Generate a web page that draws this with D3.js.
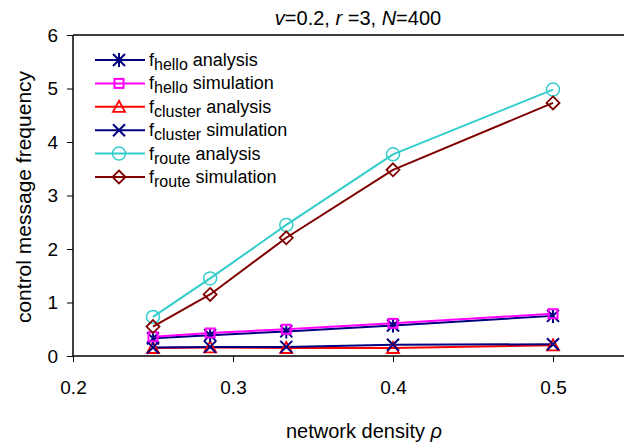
<!DOCTYPE html>
<html>
<head>
<meta charset="utf-8">
<script src="https://cdn.jsdelivr.net/npm/d3@7"></script>
<style>
  body { margin: 0; background: #fff; }
  text { font-family: "Liberation Sans", Arial, sans-serif; }
</style>
</head>
<body>
<svg></svg>
<script>
// densities (x) and the six series
var density = [0.25, 0.2857, 0.3333, 0.4, 0.5]
var helloAnalysis = [0.33, 0.39, 0.46, 0.57, 0.75]
var helloSimulation = [0.36, 0.43, 0.50, 0.61, 0.79]
var clusterAnalysis = [0.15, 0.16, 0.15, 0.15, 0.20]
var clusterSimulation = [0.16, 0.17, 0.17, 0.21, 0.22]
var routeAnalysis = [0.73, 1.45, 2.45, 3.77, 4.98]
var routeSimulation = [0.55, 1.15, 2.21, 3.48, 4.73]
var xTicks = [0.2, 0.3, 0.4, 0.5]
var yTicks = [0, 1, 2, 3, 4, 5, 6]

var series = [
    {sub: "hello", kind: "analysis", values: helloAnalysis, color: "#000080", marker: "star"},
    {sub: "hello", kind: "simulation", values: helloSimulation, color: "#ff00ff", marker: "square"},
    {sub: "cluster", kind: "analysis", values: clusterAnalysis, color: "#ff0000", marker: "triangle"},
    {sub: "cluster", kind: "simulation", values: clusterSimulation, color: "#000080", marker: "x"},
    {sub: "route", kind: "analysis", values: routeAnalysis, color: "#33cccc", marker: "circle"},
    {sub: "route", kind: "simulation", values: routeSimulation, color: "#800000", marker: "diamond"}
]
// draw order so the lower lines stack like the original
var drawOrder = [2, 3, 0, 1, 4, 5]

var dimensions = {
    width: 624,
    height: 447,
    margin: {top: 35, bottom: 91, left: 73, right: 0}
}

var svg = d3.select("svg")
            .attr("width", dimensions.width)
            .attr("height", dimensions.height)

var xScale = d3.scaleLinear()
               .domain([0.2, 0.55])
               .range([dimensions.margin.left, dimensions.margin.left + 560])

var yScale = d3.scaleLinear()
               .domain([0, 6])
               .range([dimensions.height - dimensions.margin.bottom, dimensions.margin.top])

// top border
svg.append("line")
   .attr("x1", xScale(0.2)).attr("x2", dimensions.width)
   .attr("y1", yScale(6)).attr("y2", yScale(6))
   .attr("stroke", "black").attr("stroke-width", 1.5)

var xAxis = svg.append("g")
               .attr("transform", "translate(0," + yScale(0) + ")")
               .call(d3.axisBottom(xScale).tickValues(xTicks).tickFormat(d3.format(".1f")).tickSize(6).tickPadding(19))
xAxis.select(".domain").attr("stroke-width", 1.5).attr("d", "M" + xScale(0.2) + ",0H" + dimensions.width)
xAxis.selectAll("text").attr("font-size", 19).attr("fill", "#000")
   .attr("font-family", "Liberation Sans, Arial, sans-serif")

var yAxis = svg.append("g")
               .attr("transform", "translate(" + xScale(0.2) + ",0)")
               .call(d3.axisLeft(yScale).tickValues(yTicks).tickFormat(d3.format("d")).tickSize(6).tickPadding(9))
yAxis.select(".domain").attr("stroke-width", 1.5).attr("d", "M0," + yScale(0) + "V" + yScale(6))
yAxis.selectAll("text").attr("font-size", 19).attr("fill", "#000")
   .attr("font-family", "Liberation Sans, Arial, sans-serif")

// axis titles
svg.append("text")
   .attr("x", 364).attr("y", 438)
   .attr("text-anchor", "middle").attr("font-size", 20)
   .text("network density ")
   .append("tspan").attr("font-style", "italic").text("ρ")

svg.append("text")
   .attr("transform", "translate(31,197) rotate(-90)")
   .attr("text-anchor", "middle").attr("font-size", 21)
   .text("control message frequency")

// chart title
var title = svg.append("text")
               .attr("x", 358).attr("y", 25)
               .attr("text-anchor", "middle").attr("font-size", 20)
title.append("tspan").attr("font-style", "italic").text("v")
title.append("tspan").text("=0.2, ")
title.append("tspan").attr("font-style", "italic").text("r")
title.append("tspan").text(" =3,  ")
title.append("tspan").attr("font-style", "italic").text("N")
title.append("tspan").text("=400")

function drawMarker(g, type, color) {
    if (type == "circle") {
        g.append("circle").attr("r", 6.5).attr("fill", "none").attr("stroke", color).attr("stroke-width", 1.5)
    } else if (type == "square") {
        g.append("rect").attr("x", -4.5).attr("y", -4.5).attr("width", 9).attr("height", 9)
         .attr("fill", "none").attr("stroke", color).attr("stroke-width", 2)
    } else if (type == "diamond") {
        g.append("path").attr("d", "M0,-6.5L6.5,0L0,6.5L-6.5,0Z").attr("fill", "none").attr("stroke", color).attr("stroke-width", 1.8)
    } else if (type == "triangle") {
        g.append("path").attr("d", "M0,-6L6,5L-6,5Z").attr("fill", "none").attr("stroke", color).attr("stroke-width", 1.8)
    } else if (type == "x") {
        g.append("path").attr("d", "M-6,-6L6,6M-6,6L6,-6").attr("stroke", color).attr("stroke-width", 2)
    } else if (type == "star") {
        g.append("path").attr("d", "M-6,-6L6,6M-6,6L6,-6M0,-7V7").attr("stroke", color).attr("stroke-width", 2)
    }
}

var line = d3.line()
             .x((d, i) => xScale(density[i]))
             .y(d => yScale(d))

drawOrder.forEach(function(k) {
    var s = series[k]
    svg.append("path")
       .attr("d", line(s.values))
       .attr("fill", "none")
       .attr("stroke", s.color)
       .attr("stroke-width", 2)
       .attr("stroke-linejoin", "round")
})
drawOrder.forEach(function(k) {
    var s = series[k]
    s.values.forEach(function(v, i) {
        var g = svg.append("g").attr("transform", "translate(" + xScale(density[i]) + "," + yScale(v) + ")")
        drawMarker(g, s.marker, s.color)
    })
})

// legend
var legend = svg.append("g")
series.forEach(function(s, i) {
    var y = 60 + i * 23.4
    var row = legend.append("g").attr("transform", "translate(0," + y + ")")
    row.append("line").attr("x1", 95).attr("x2", 145).attr("y1", 0).attr("y2", 0)
       .attr("stroke", s.color).attr("stroke-width", 2)
    var m = row.append("g").attr("transform", "translate(119,0)")
    drawMarker(m, s.marker, s.color)
    var t = row.append("text").attr("x", 149).attr("y", 6).attr("font-size", 18)
    t.append("tspan").text("f")
    t.append("tspan").attr("dy", 4).attr("font-size", 16).text(s.sub)
    t.append("tspan").attr("dy", -4).text(" " + s.kind)
})
</script>
</body>
</html>
